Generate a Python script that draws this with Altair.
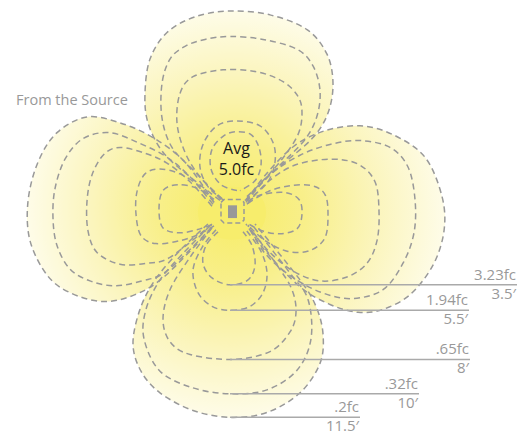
import altair as alt
import pandas as pd

# Source (luminaire) location in picture units; all shapes are read relative to it
SRC_X, SRC_Y = 232, 216

# ---- isofootcandle petals, points (x right, y down) ----
TOP_323 = [(237,194),(221,188),(211,172),(212,152),(224,138),(237,134),(251,137),(259,150),(261,168),(255,184),(240,194)]
TOP_194 = [(224,204),(208,190),(200,170),(203,147),(217,128),(237,123),(260,128),(273,145),(275,165),(268,185),(252,200),(242,205)]
TOP_065 = [(222,202),(200,180),(185,155),(177,125),(180,95),(193,78),(223,71),(257,73),(283,83),(298,98),(302,115),(298,137),(282,162),(262,185),(245,202)]
TOP_032 = [(221,203),(195,175),(172,150),(162,120),(162,85),(170,60),(185,47),(205,40),(230,37),(263,40),(297,50),(313,67),(320,92),(317,118),(305,142),(280,168),(260,188),(246,203)]
TOP_020 = [(220,204),(190,180),(163,155),(148,125),(145,95),(150,60),(167,33),(195,17),(230,11),(270,15),(307,30),(327,55),(333,85),(328,115),(313,140),(285,165),(262,185),(247,204)]

LEFT_323 = [(214,203),(198,192),(178,188),(163,194),(159,213),(163,232),(180,237),(200,233),(214,228)]
LEFT_194 = [(214,206),(200,190),(180,177),(160,172),(145,177),(137,195),(136,218),(141,240),(156,248),(180,245),(200,238),(214,230)]
LEFT_065 = [(212,210),(190,185),(167,166),(145,156),(120,150),(104,157),(92,178),(87,205),(88,235),(97,257),(120,269),(147,268),(170,262),(212,228)]
LEFT_032 = [(213,208),(190,180),(167,160),(140,146),(110,135),(83,141),(65,162),(55,192),(53,222),(57,250),(70,274),(90,286),(115,291),(142,286),(168,275),(213,230)]
LEFT_020 = [(214,206),(185,165),(153,140),(120,125),(87,119),(57,135),(38,165),(28,205),(30,245),(47,280),(70,298),(103,307),(135,300),(165,281),(212,232)]

RIGHT_323 = [(248,205),(262,198),(285,196),(299,203),(302,218),(297,233),(280,238),(262,235),(247,227)]
RIGHT_194 = [(248,207),(268,195),(290,189),(312,189),(325,198),(328,218),(325,242),(310,255),(288,256),(265,245),(248,229)]
RIGHT_065 = [(247,208),(268,185),(295,168),(330,162),(358,167),(375,185),(379,215),(377,245),(367,268),(347,282),(320,286),(293,276),(268,255),(248,230)]
RIGHT_032 = [(246,206),(270,178),(300,158),(330,147),(360,143),(390,150),(408,170),(415,203),(414,237),(403,268),(383,295),(352,304),(322,298),(292,282),(265,258),(248,229)]
RIGHT_020 = [(246,204),(268,175),(295,148),(325,133),(360,128),(393,137),(425,160),(442,200),(444,235),(433,270),(410,300),(383,315),(358,318),(330,310),(300,292),(265,255),(246,228)]

BOTTOM_323 = [(218,236),(206,250),(203,268),(212,283),(230,290),(248,285),(255,270),(252,250),(243,236)]
BOTTOM_194 = [(216,234),(202,252),(193,275),(198,298),(212,312),(230,316),(250,312),(263,298),(267,278),(261,256),(246,234)]
BOTTOM_065 = [(212,232),(190,262),(170,295),(163,325),(170,348),(190,361),(233,366),(270,358),(290,338),(296,318),(292,295),(277,270),(250,232)]
BOTTOM_032 = [(210,230),(183,258),(160,285),(146,315),(144,345),(160,378),(193,395),(230,401),(267,397),(297,377),(311,345),(308,305),(290,278),(253,230)]
BOTTOM_020 = [(208,228),(180,255),(155,285),(140,315),(133,350),(141,378),(160,400),(193,418),(230,425),(267,420),(300,400),(320,370),(323,340),(316,312),(300,285),(255,228)]

CORE = [(221,206),(224,203),(241,203),(244,206),(244,224),(241,227),(224,227),(221,224)]
HUB = [(206,198),(232,190),(258,198),(266,216),(258,236),(232,244),(206,236),(198,216)]

SOURCE_X = [228, 237]
SOURCE_Y = [209, 222]

# ---- leader lines and labels ----
FC_LABELS = ["3.23fc", "1.94fc", ".65fc", ".32fc", ".2fc"]
DIST_LABELS = ["3.5\u2032", "5.5\u2032", "8\u2032", "10\u2032", "11.5\u2032"]
LEADER_Y = [290, 316, 366, 401, 425]
LEADER_END = [517, 469, 470, 419, 360]
LEADER_START = 230

AVG_TEXT = ["Avg", "5.0fc"]
AVG_X = 236.5
AVG_Y = [157, 178]
TITLE_TEXT = "From the Source"
TITLE_POS = (16, 107)


def rel(pts, name):
    return pd.DataFrame({
        "petal": name,
        "i": list(range(len(pts))),
        "x": [p[0] - SRC_X for p in pts],
        "y": [SRC_Y - p[1] for p in pts],
    })


petals = {
    "T1": TOP_323, "T2": TOP_194, "T3": TOP_065, "T4": TOP_032, "T5": TOP_020,
    "L1": LEFT_323, "L2": LEFT_194, "L3": LEFT_065, "L4": LEFT_032, "L5": LEFT_020,
    "R1": RIGHT_323, "R2": RIGHT_194, "R3": RIGHT_065, "R4": RIGHT_032, "R5": RIGHT_020,
    "B1": BOTTOM_323, "B2": BOTTOM_194, "B3": BOTTOM_065, "B4": BOTTOM_032, "B5": BOTTOM_020,
}
petal_df = pd.concat([rel(v, k) for k, v in petals.items()], ignore_index=True)

xs = alt.Scale(domain=[8 - SRC_X, 521 - SRC_X], nice=False, zero=False)
ys = alt.Scale(domain=[SRC_Y - 444, SRC_Y - 8], nice=False, zero=False)
X = lambda f="x": alt.X(f"{f}:Q", scale=xs, axis=None)
Y = lambda f="y": alt.Y(f"{f}:Q", scale=ys, axis=None)

STOPS = [
    alt.GradientStop(color="#f7ed6c", offset=0),
    alt.GradientStop(color="#f8ef8a", offset=0.3),
    alt.GradientStop(color="#fbf5bd", offset=0.66),
    alt.GradientStop(color="#fefce8", offset=1),
]


def fill_layer(pts, name, cx, cy):
    grad = alt.RadialGradient(gradient="radial", stops=STOPS,
                              x1=cx, y1=cy, r1=0, x2=cx, y2=cy, r2=1.0)
    return alt.Chart(rel(pts, name)).mark_line(
        interpolate="cardinal", fill=grad, strokeOpacity=0
    ).encode(x=X(), y=Y(), order="i:Q")


fills = [
    fill_layer(LEFT_020, "L5", 1.0, 0.5),
    fill_layer(RIGHT_020, "R5", 0.0, 0.47),
    fill_layer(TOP_020, "T5", 0.47, 1.0),
    fill_layer(BOTTOM_020, "B5", 0.52, 0.0),
]

hub = alt.Chart(rel(HUB, "hub")).mark_line(
    interpolate="cardinal-closed", fill="#f7ed6c", strokeOpacity=0
).encode(x=X(), y=Y(), order="i:Q")

strokes = alt.Chart(petal_df).mark_line(
    interpolate="cardinal", stroke="#999999", strokeWidth=1.5, strokeDash=[6, 4]
).encode(x=X(), y=Y(), detail="petal:N", order="i:Q")

core = alt.Chart(rel(CORE, "core")).mark_line(
    interpolate="linear-closed", stroke="#999999", strokeWidth=1.5, strokeDash=[5, 3]
).encode(x=X(), y=Y(), order="i:Q")

src_df = pd.DataFrame({"x": [SOURCE_X[0] - SRC_X], "x2": [SOURCE_X[1] - SRC_X],
                       "y": [SRC_Y - SOURCE_Y[0]], "y2": [SRC_Y - SOURCE_Y[1]]})
source = alt.Chart(src_df).mark_rect(color="#999999").encode(
    x=X(), x2="x2:Q", y=Y(), y2="y2:Q")

lead_df = pd.DataFrame({
    "x": [LEADER_START - SRC_X] * len(LEADER_Y),
    "x2": [e - SRC_X for e in LEADER_END],
    "y": [SRC_Y - v for v in LEADER_Y],
    "fc": FC_LABELS,
    "dist": DIST_LABELS,
})
leaders = alt.Chart(lead_df).mark_rule(color="#aaaaaa", strokeWidth=1.5).encode(
    x=X(), x2="x2:Q", y=Y())
fc_text = alt.Chart(lead_df).mark_text(
    align="right", baseline="alphabetic", dx=-1, dy=-5,
    font="Open Sans", fontSize=15, color="#999999"
).encode(x=X("x2"), y=Y(), text="fc:N")
dist_text = alt.Chart(lead_df).mark_text(
    align="right", baseline="alphabetic", dx=-1, dy=14,
    font="Open Sans", fontSize=15, color="#999999"
).encode(x=X("x2"), y=Y(), text="dist:N")

avg_df = pd.DataFrame({"x": [AVG_X - SRC_X] * 2, "y": [SRC_Y - v for v in AVG_Y], "t": AVG_TEXT})
avg = alt.Chart(avg_df).mark_text(
    align="center", baseline="alphabetic", font="Open Sans", fontSize=16, color="#1a1a1a"
).encode(x=X(), y=Y(), text="t:N")

title_df = pd.DataFrame({"x": [TITLE_POS[0] - SRC_X], "y": [SRC_Y - TITLE_POS[1]], "t": [TITLE_TEXT]})
title = alt.Chart(title_df).mark_text(
    align="left", baseline="alphabetic", font="Open Sans", fontSize=14.5, color="#999999"
).encode(x=X(), y=Y(), text="t:N")

chart = alt.layer(
    *fills, hub, strokes, core, source, leaders, fc_text, dist_text, avg, title
).properties(
    width=513, height=428, padding=0, autosize=alt.AutoSizeParams(type="none")
).configure_view(strokeWidth=0)

chart.save("out.html", embed_options={"renderer": "svg", "actions": False})
